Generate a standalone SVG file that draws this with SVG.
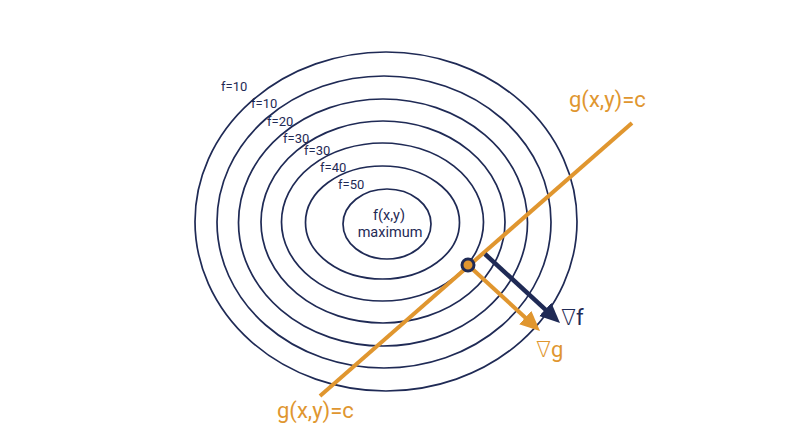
<svg xmlns="http://www.w3.org/2000/svg" width="800" height="447" viewBox="0 0 800 447">
<style>
.c{fill:none;stroke:#1F2A55;stroke-width:1.7}
.lbl{font-family:Roboto,"Liberation Sans",sans-serif;font-size:13px;fill:#1F2A55}
.ctr{font-family:Roboto,"Liberation Sans",sans-serif;font-size:14.5px;fill:#1F2A55;text-anchor:middle}
.og{font-family:Roboto,"Liberation Sans",sans-serif;font-size:22px;fill:#E0962F}
.nv{font-family:Roboto,"Liberation Sans",sans-serif;font-size:22px;fill:#1F2A55}
.del{font-family:"DejaVu Sans",sans-serif;font-weight:200}
</style>
<defs>
<marker id="ah-o" markerUnits="userSpaceOnUse" markerWidth="22" markerHeight="20" refX="1" refY="9" orient="auto"><path d="M0,0 L20,9 L0,18 z" fill="#E0962F"/></marker>
<marker id="ah-n" markerUnits="userSpaceOnUse" markerWidth="22" markerHeight="20" refX="1" refY="9" orient="auto"><path d="M0,0 L20,9 L0,18 z" fill="#1F2A55"/></marker>
</defs>
<rect width="800" height="447" fill="#ffffff"/>
<g id="contours">
<ellipse class="c" cx="386" cy="221.5" rx="191" ry="169.5"/>
<ellipse class="c" cx="384" cy="222" rx="167" ry="146"/>
<ellipse class="c" cx="383" cy="222.5" rx="144.5" ry="123.5"/>
<ellipse class="c" cx="383" cy="222" rx="122" ry="101"/>
<ellipse class="c" cx="382.5" cy="222" rx="101" ry="79"/>
<ellipse class="c" cx="382.5" cy="222.5" rx="77" ry="56.5"/>
<ellipse class="c" cx="387" cy="224" rx="44" ry="35"/>
</g>
<g id="contour-labels">
<text class="lbl" x="221" y="91">f=10</text>
<text class="lbl" x="251" y="108">f=10</text>
<text class="lbl" x="267" y="126">f=20</text>
<text class="lbl" x="283" y="143">f=30</text>
<text class="lbl" x="304" y="155">f=30</text>
<text class="lbl" x="320" y="172">f=40</text>
<text class="lbl" x="338" y="189">f=50</text>
</g>
<g id="maximum">
<text class="ctr" x="389" y="220">f(x,y)</text>
<text class="ctr" x="390" y="237">maximum</text>
</g>
<g id="connectors">
<line x1="320" y1="396" x2="632" y2="123" stroke="#E0962F" stroke-width="4"/>
<line x1="468" y1="265" x2="526" y2="318.2" stroke="#E0962F" stroke-width="4" marker-end="url(#ah-o)"/>
<line x1="485" y1="254" x2="546" y2="310.1" stroke="#1F2A55" stroke-width="4.5" marker-end="url(#ah-n)"/>
</g>
<g id="point">
<circle cx="468" cy="265" r="6" fill="#E0962F" stroke="#1F2A55" stroke-width="3"/>
</g>
<g id="labels">
<text class="og" x="569" y="107">g(x,y)=c</text>
<text class="og" x="277" y="418">g(x,y)=c</text>
<text class="nv" x="561" y="325"><tspan class="del">∇</tspan>f</text>
<text class="og" x="536" y="357"><tspan class="del">∇</tspan>g</text>
</g>
</svg>
